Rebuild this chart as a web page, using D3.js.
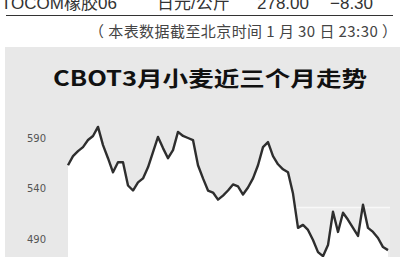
<!DOCTYPE html>
<html>
<head>
<meta charset="utf-8">
<script src="https://cdn.jsdelivr.net/npm/d3@7"></script>
<style>
  body { margin: 0; background: #fff; overflow: hidden; }
  svg { display: block; }
</style>
</head>
<body>
<div id="vis"></div>
<script>
const FRAME_WIDTH = 403;
const FRAME_HEIGHT = 257;

// top table row (clipped in the picture)
const TABLE_ROW = ['TOCOM橡胶06', '日元/公斤', '278.00', '−8.30'];
const NOTE = '（ 本表数据截至北京时间 1 月 30 日 23:30 ）';
const TITLE = 'CBOT3月小麦近三个月走势';

// y tick labels
const Y_TICKS = [490, 540, 590];

// trading days
const dates = [
  '10-27','10-28','10-29','10-30',
  '11-02','11-03','11-04','11-05','11-06','11-09','11-10','11-11','11-12','11-13',
  '11-16','11-17','11-18','11-19','11-20','11-23','11-24','11-25','11-27','11-30',
  '12-01','12-02','12-03','12-04','12-07','12-08','12-09','12-10','12-11','12-14',
  '12-15','12-16','12-17','12-18','12-21','12-22','12-23','12-24','12-28','12-29',
  '12-30','12-31',
  '01-04','01-05','01-06','01-07','01-08','01-11','01-12','01-13','01-14','01-15',
  '01-19','01-20','01-21','01-22','01-25','01-26','01-27','01-28','01-29'
];

// March wheat, cents/bushel
const prices = [
  563, 572, 577, 581, 588, 592, 601, 583, 570, 556,
  566, 566, 543, 538, 546, 550, 561, 576, 591, 580,
  570, 578, 596, 592, 590, 588, 563, 550, 538, 536,
  529, 533, 538, 544, 542, 534, 541, 550, 563, 581,
  586, 572, 564, 559, 556, 535, 501, 504, 499, 489,
  477, 473, 484, 517, 497, 516, 509, 501, 493, 524,
  501, 497, 491, 482, 479
];

const data = dates.map((d, i) => ({date: d, value: prices[i]}));

const PANEL = {left: 5, top: 47, right: 400};
const PLOT = {left: 68, right: 388, bottom: FRAME_HEIGHT};

const svg = d3.select('#vis')
  .append('svg')
    .attr('width', FRAME_WIDTH)
    .attr('height', FRAME_HEIGHT);

// top table row, cut off at the top edge as in the scan
const rowX = [1, 157, 257, 330];
svg.selectAll('.row')
  .data(TABLE_ROW)
  .enter()
  .append('text')
    .attr('x', (d, i) => rowX[i])
    .attr('y', 8.5)
    .attr('font-family', '"Liberation Sans", "Noto Sans CJK SC", sans-serif')
    .attr('font-size', 17)
    .attr('fill', '#333')
    .text(d => d);

svg.append('line')
  .attr('x1', 6).attr('x2', 393)
  .attr('y1', 15.5).attr('y2', 15.5)
  .attr('stroke', '#333')
  .attr('stroke-width', 1);

svg.append('text')
  .attr('x', 89)
  .attr('y', 37)
  .attr('textLength', 308)
  .attr('lengthAdjust', 'spacing')
  .attr('font-family', '"Noto Sans CJK SC", sans-serif')
  .attr('font-size', 15)
  .attr('fill', '#444')
  .text(NOTE);

// grey panel
svg.append('rect')
  .attr('x', PANEL.left)
  .attr('y', PANEL.top)
  .attr('width', PANEL.right - PANEL.left)
  .attr('height', FRAME_HEIGHT - PANEL.top)
  .attr('fill', '#e8e8e8');

svg.append('text')
  .attr('x', 53)
  .attr('y', 86)
  .attr('textLength', 314)
  .attr('lengthAdjust', 'spacingAndGlyphs')
  .attr('font-family', '"Noto Sans CJK SC", sans-serif')
  .attr('font-weight', 'bold')
  .attr('font-size', 21)
  .attr('fill', '#111')
  .text(TITLE);

// scales
const X_SCALE = d3.scalePoint()
  .domain(dates)
  .range([PLOT.left, PLOT.right]);

const Y_SCALE = d3.scaleLinear()
  .domain([490, 590])
  .range([239, 138]);

// faint lighter band low on the right
svg.append('rect')
  .attr('x', PLOT.left)
  .attr('y', 207)
  .attr('width', 390 - PLOT.left)
  .attr('height', FRAME_HEIGHT - 207)
  .attr('fill', '#ececec');
svg.append('line')
  .attr('x1', PLOT.left).attr('x2', 390)
  .attr('y1', 207.5).attr('y2', 207.5)
  .attr('stroke', '#f8f8f8')
  .attr('stroke-width', 1.5);

// white area under the line
const area = d3.area()
  .x(d => X_SCALE(d.date))
  .y0(PLOT.bottom)
  .y1(d => Y_SCALE(d.value));

svg.append('path')
  .datum(data)
  .attr('d', area)
  .attr('fill', '#fff');

const line = d3.line()
  .x(d => X_SCALE(d.date))
  .y(d => Y_SCALE(d.value));

svg.append('path')
  .datum(data)
  .attr('d', line)
  .attr('fill', 'none')
  .attr('stroke', '#2e2e2e')
  .attr('stroke-width', 2.4)
  .attr('stroke-linejoin', 'round');

// y axis labels only
const yAxis = svg.append('g')
  .attr('transform', 'translate(46,0)')
  .call(d3.axisLeft(Y_SCALE).tickValues(Y_TICKS).tickSize(0).tickPadding(0));
yAxis.select('.domain').remove();
yAxis.selectAll('text')
  .attr('font-family', '"DejaVu Sans", sans-serif')
  .attr('font-size', 10)
  .attr('fill', '#555');
</script>
</body>
</html>
